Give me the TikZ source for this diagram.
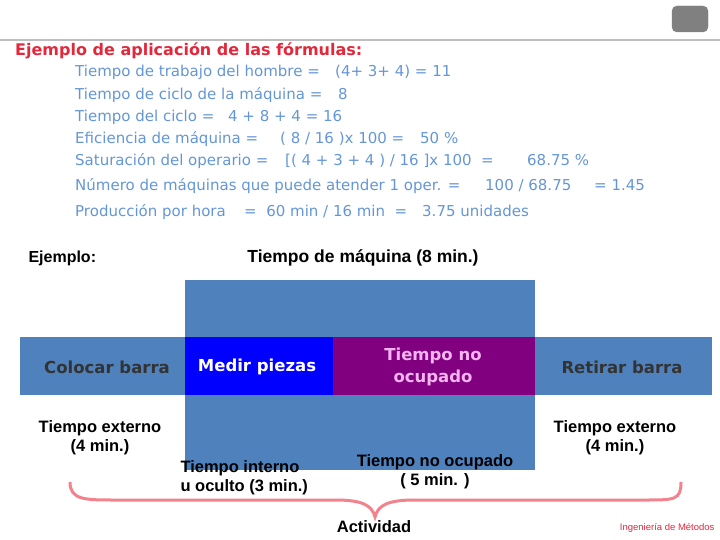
\documentclass[tikz,border=0pt]{standalone}
\usepackage{fontspec}
\setmainfont{Liberation Sans}
\newfontfamily\wideface{DejaVu Sans}
\usetikzlibrary{calc}

\definecolor{barblue}{RGB}{79,129,189}
\definecolor{medblue}{RGB}{0,0,255}
\definecolor{ocupurple}{RGB}{128,0,128}
\definecolor{formblue}{RGB}{100,150,215}
\definecolor{titlered}{RGB}{228,40,60}
\definecolor{bracered}{RGB}{242,130,140}
\definecolor{ocupink}{RGB}{245,180,240}

\tikzset{
  formula/.style={anchor=base west, inner sep=0pt, text=formblue, font=\wideface\fontsize{15}{17}\selectfont},
  label/.style={align=center, font=\bfseries\fontsize{16.5}{19}\selectfont},
  bartext/.style={align=center, font=\wideface\bfseries\fontsize{16.5}{22}\selectfont}
}

\begin{document}
\begin{tikzpicture}[x=1pt,y=-1pt]
		\useasboundingbox (0,0) rectangle (720,540);
		% header
		\draw[black!25, line width=2pt] (0,40) -- (720,40);
		\filldraw[black!50, rounded corners=5pt] (672,6) rectangle (708,32);
		\node[anchor=base west, inner sep=0pt, text=titlered, font=\wideface\bfseries\fontsize{16}{18}\selectfont] (title) at (15,56) {Ejemplo de aplicación de las fórmulas:};
		% formulas
		\node[formula] (f1) at (75,77) {Tiempo de trabajo del hombre =};
		\node[formula] (f1v) at (335,77) {(4+ 3+ 4) = 11};
		\node[formula] (f2) at (75,100) {Tiempo de ciclo de la máquina =};
		\node[formula] (f2v) at (338,100) {8};
		\node[formula] (f3) at (75,122) {Tiempo del ciclo =};
		\node[formula] (f3v) at (228,122) {4 + 8 + 4 = 16};
		\node[formula] (f4) at (75,144) {Eficiencia de máquina =};
		\node[formula] (f4v) at (280,144) {( 8 / 16 )x 100 =};
		\node[formula] (f4r) at (420,144) {50 \%};
		\node[formula] (f5) at (75,166) {Saturación del operario =};
		\node[formula] (f5v) at (285,166) {[( 4 + 3 + 4 ) / 16 ]x 100 \ =};
		\node[formula] (f5r) at (527,166) {68.75 \%};
		\node[formula] (f6) at (75,191) {Número de máquinas que puede atender 1 oper. =};
		\node[formula] (f6v) at (485,191) {100 / 68.75};
		\node[formula] (f6r) at (594,191) {= 1.45};
		\node[formula] (f7) at (75,217) {Producción por hora};
		\node[formula] (f7v) at (244,217) {= \ 60 min / 16 min \ =};
		\node[formula] (f7r) at (422,217) {3.75 unidades};
		% diagram
		\node[label, anchor=west, font=\bfseries\fontsize{16}{18}\selectfont] (ejemplo) at (25,258) {Ejemplo:};
		\node[label, font=\bfseries\fontsize{17.5}{19}\selectfont] (maquina) at (363,258) {Tiempo de máquina (8 min.)};
		\fill[barblue] (185,280) rectangle (535,470);
		\fill[barblue] (20,337) rectangle (712,395);
		\fill[medblue] (185,337) rectangle (333,395);
		\fill[ocupurple] (333,337) rectangle (535,395);
		\node[bartext, text=black!80] (colocar) at (107,367) {Colocar barra};
		\node[bartext, text=white] (medir) at (257,367) {Medir piezas};
		\node[bartext, text=ocupink] (noocup) at (433,367) {Tiempo no\\ocupado};
		\node[bartext, text=black!80] (retirar) at (622,367) {Retirar barra};
		\node[label] (extizq) at (100,438) {Tiempo externo\\(4 min.)};
		\node[label] (extder) at (615,438) {Tiempo externo\\(4 min.)};
		\node[label, anchor=west, align=left] (interno) at (177,478) {Tiempo interno\\u oculto (3 min.)};
		\node[label] (noocupado) at (435,472) {Tiempo no ocupado\\( 5 min. )};
		% llave
		\draw[bracered, line width=3pt] (70,482) .. controls (70,500) and (85,500) .. (115,500) -- (335,500) .. controls (362,500) and (372,505) .. (375,517) .. controls (378,505) and (388,500) .. (415,500) -- (645,500) .. controls (675,500) and (681,500) .. (681,482);
		\node[label] (actividad) at (374,527) {Actividad};
		\node[anchor=east, text=titlered, font=\fontsize{9.5}{10}\selectfont] (fuente) at (718,528) {Ingeniería de Métodos};
\end{tikzpicture}
\end{document}
